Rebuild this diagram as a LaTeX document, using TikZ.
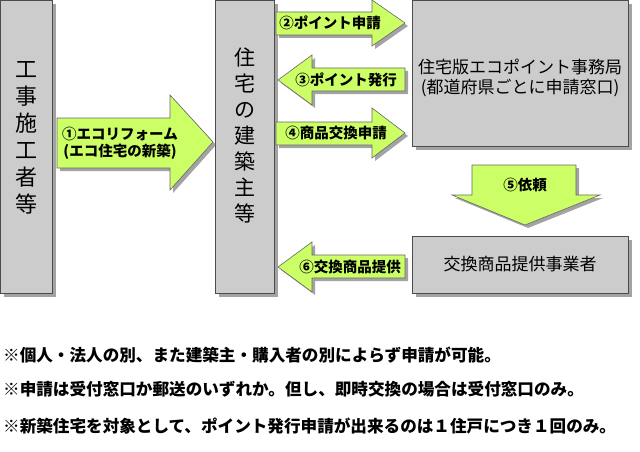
\documentclass[tikz,border=0pt]{standalone}
\usepackage{fontspec}
\setmainfont{Noto Sans CJK JP}
\usetikzlibrary{shadows,positioning}
\tikzset{
  box/.style={draw=black!70,fill=black!20,line width=0.8pt,drop shadow={shadow xshift=4pt,shadow yshift=-4pt,fill=black!60,opacity=0.6}},
  flow/.style={draw=black!60,fill={rgb,255:red,204;green,255;blue,102},line width=0.6pt,drop shadow={shadow xshift=3pt,shadow yshift=-3pt,fill=black!60,opacity=0.6}},
  lbl/.style={font=\fontsize{14.5}{17}\selectfont\bfseries,inner sep=0pt},
  note/.style={font=\fontsize{16.6}{18}\selectfont\bfseries,anchor=west,inner sep=0pt}
}
\begin{document}
\begin{tikzpicture}[x=1pt,y=-1pt]
  \useasboundingbox (0,0) rectangle (640,452);

  % boxes
  \path[box] (0,0) rectangle (52,293);
  \node (kouji) at (26,138) {\parbox{24pt}{\centering\fontsize{22}{27}\selectfont 工\\事\\施\\工\\者\\等}};
  \path[box] (215,0) rectangle (274,293);
  \node (kenchiku) at (244.5,135) {\parbox{24pt}{\centering\fontsize{21}{26}\selectfont 住\\宅\\の\\建\\築\\主\\等}};
  \path[box] (412,0) rectangle (628,146);
  \node[align=center,font=\fontsize{17}{20}\selectfont] (jimu) at (520,78) {住宅版エコポイント事務局\\(都道府県ごとに申請窓口)};
  \path[box] (412,236) rectangle (628,293);
  \node[font=\fontsize{17}{20}\selectfont] (jigyo) at (520,264.5) {交換商品提供事業者};

  % arrows
  \path[flow] (57,118) -- (170,118) -- (170,95) -- (213,142) -- (170,190) -- (170,168) -- (57,168) -- cycle;
  \node[lbl,align=center] (a1) at (120,143) {①エコリフォーム\\(エコ住宅の新築)};
  \path[flow] (276,12) -- (372,12) -- (372,0) -- (405,23) -- (372,46) -- (372,35) -- (276,35) -- cycle;
  \node[lbl] (a2) at (330,23) {②ポイント申請};
  \path[flow] (405,68) -- (312,68) -- (312,55) -- (278,80) -- (312,105) -- (312,91) -- (405,91) -- cycle;
  \node[lbl] (a3) at (346,80) {③ポイント発行};
  \path[flow] (276,122) -- (372,122) -- (372,108) -- (405,133) -- (372,158) -- (372,145) -- (276,145) -- cycle;
  \node[lbl] (a4) at (336,133) {④商品交換申請};
  \path[flow] (472,165) -- (576,165) -- (576,195) -- (600,195) -- (525,225) -- (452,195) -- (472,195) -- cycle;
  \node[lbl] (a5) at (525,185) {⑤依頼};
  \path[flow] (405,255) -- (312,255) -- (312,242) -- (278,267) -- (312,292) -- (312,278) -- (405,278) -- cycle;
  \node[lbl] (a6) at (350,267) {⑥交換商品提供};

  % notes
  \node[note] (n1) at (3,355) {※個人・法人の別、また建築主・購入者の別によらず申請が可能。};
  \node[note] (n2) at (3,389) {※申請は受付窓口か郵送のいずれか。但し、即時交換の場合は受付窓口のみ。};
  \node[note] (n3) at (3,426) {※新築住宅を対象として、ポイント発行申請が出来るのは１住戸につき１回のみ。};
\end{tikzpicture}
\end{document}
